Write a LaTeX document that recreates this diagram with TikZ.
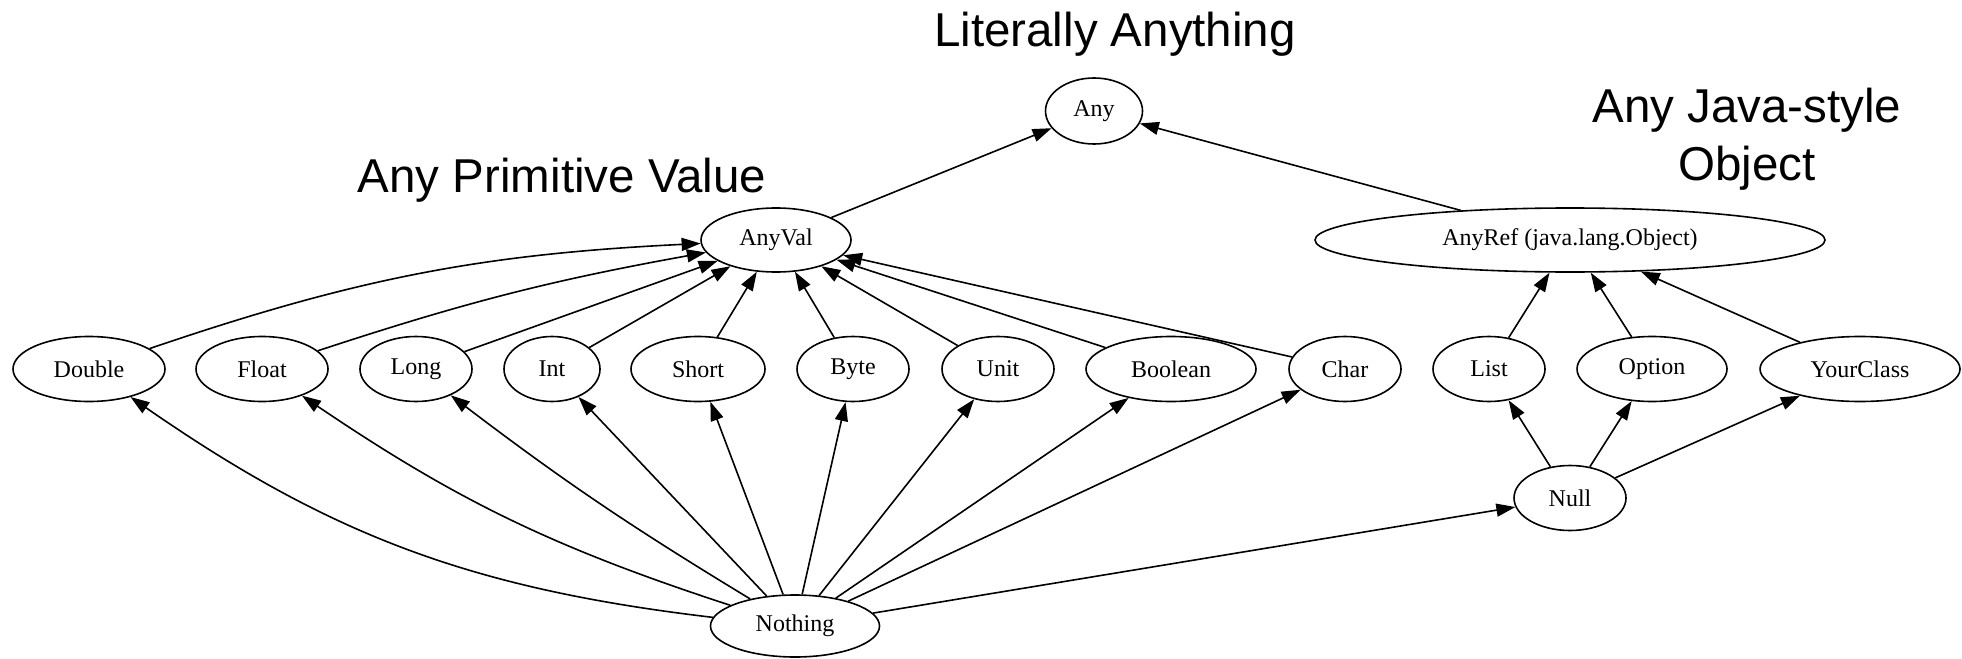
\documentclass[tikz,border=0pt]{standalone}
\usepackage{fontspec}
\setmainfont{Liberation Serif}
\newfontfamily\labelfont{Liberation Sans}
\usetikzlibrary{arrows.meta,shapes.geometric}
\begin{document}
\begin{tikzpicture}[x=0.5pt,y=-0.5pt,
  ell/.style={draw, ellipse, inner sep=0pt, line width=0.8pt, font=\fontsize{12}{14}\selectfont},
  edge/.style={-{Triangle[length=9.5pt,width=6.5pt]}, line width=0.8pt},
  big/.style={font=\labelfont\fontsize{23.75}{28}\selectfont, inner sep=0pt, anchor=base}]
\useasboundingbox (0,0) rectangle (1962,658);

% headings
\node[big] (lit) at (1115,47) {Literally Anything};
\node[big] (prim) at (562,192) {Any Primitive Value};
\node[big] (javaA) at (1747,122) {Any Java-style};
\node[big] (javaB) at (1747,180) {Object};

% top
\node[ell, minimum width=48.5pt, minimum height=33pt] (any) at (1094,111) {Any};
\node[ell, minimum width=75pt, minimum height=32pt] (anyval) at (776,240) {AnyVal};
\node[ell, minimum width=255pt, minimum height=32pt] (anyref) at (1570,240) {AnyRef (java.lang.Object)};

% middle row
\node[ell, minimum width=76pt, minimum height=32.5pt] (double) at (89,369) {Double};
\node[ell, minimum width=66pt, minimum height=32.5pt] (float) at (262,369) {Float};
\node[ell, minimum width=56pt, minimum height=32.5pt] (long) at (416,369) {Long};
\node[ell, minimum width=48pt, minimum height=32.5pt] (int) at (552,369) {Int};
\node[ell, minimum width=67pt, minimum height=32.5pt] (short) at (698,369) {Short};
\node[ell, minimum width=56pt, minimum height=32.5pt] (byte) at (853,369) {Byte};
\node[ell, minimum width=56pt, minimum height=32.5pt] (unit) at (998,369) {Unit};
\node[ell, minimum width=85pt, minimum height=32.5pt] (boolean) at (1171,369) {Boolean};
\node[ell, minimum width=56pt, minimum height=32.5pt] (char) at (1345,369) {Char};
\node[ell, minimum width=56pt, minimum height=32.5pt] (list) at (1489,369) {List};
\node[ell, minimum width=75pt, minimum height=32.5pt] (option) at (1652,369) {Option};
\node[ell, minimum width=100pt, minimum height=32.5pt] (yourclass) at (1860,369) {YourClass};

% bottom
\node[ell, minimum width=56pt, minimum height=32.5pt] (null) at (1570,498) {Null};
\node[ell, minimum width=84.5pt, minimum height=31pt] (nothing) at (795,626) {Nothing};

% edges to Any
\draw[edge] (anyval) -- (any);
\draw[edge] (anyref) -- (any);

% primitives to AnyVal
\draw[edge] (double) to[bend left=8] (anyval);
\draw[edge] (float) to[bend left=4] (anyval);
\draw[edge] (long) -- (anyval);
\draw[edge] (int) -- (anyval);
\draw[edge] (short) -- (anyval);
\draw[edge] (byte) -- (anyval);
\draw[edge] (unit) -- (anyval);
\draw[edge] (boolean) -- (anyval);
\draw[edge] (char) -- (anyval);

% refs to AnyRef
\draw[edge] (list) -- (anyref);
\draw[edge] (option) -- (anyref);
\draw[edge] (yourclass) -- (anyref);

% Nothing to primitives
\draw[edge] (nothing) to[bend left=14] (double);
\draw[edge] (nothing) to[bend left=8] (float);
\draw[edge] (nothing) to[bend left=3] (long);
\draw[edge] (nothing) -- (int);
\draw[edge] (nothing) -- (short);
\draw[edge] (nothing) -- (byte);
\draw[edge] (nothing) -- (unit);
\draw[edge] (nothing) -- (boolean);
\draw[edge] (nothing) -- (char);
\draw[edge] (nothing) -- (null);

% Null to refs
\draw[edge] (null) -- (list);
\draw[edge] (null) -- (option);
\draw[edge] (null) -- (yourclass);
\end{tikzpicture}
\end{document}
